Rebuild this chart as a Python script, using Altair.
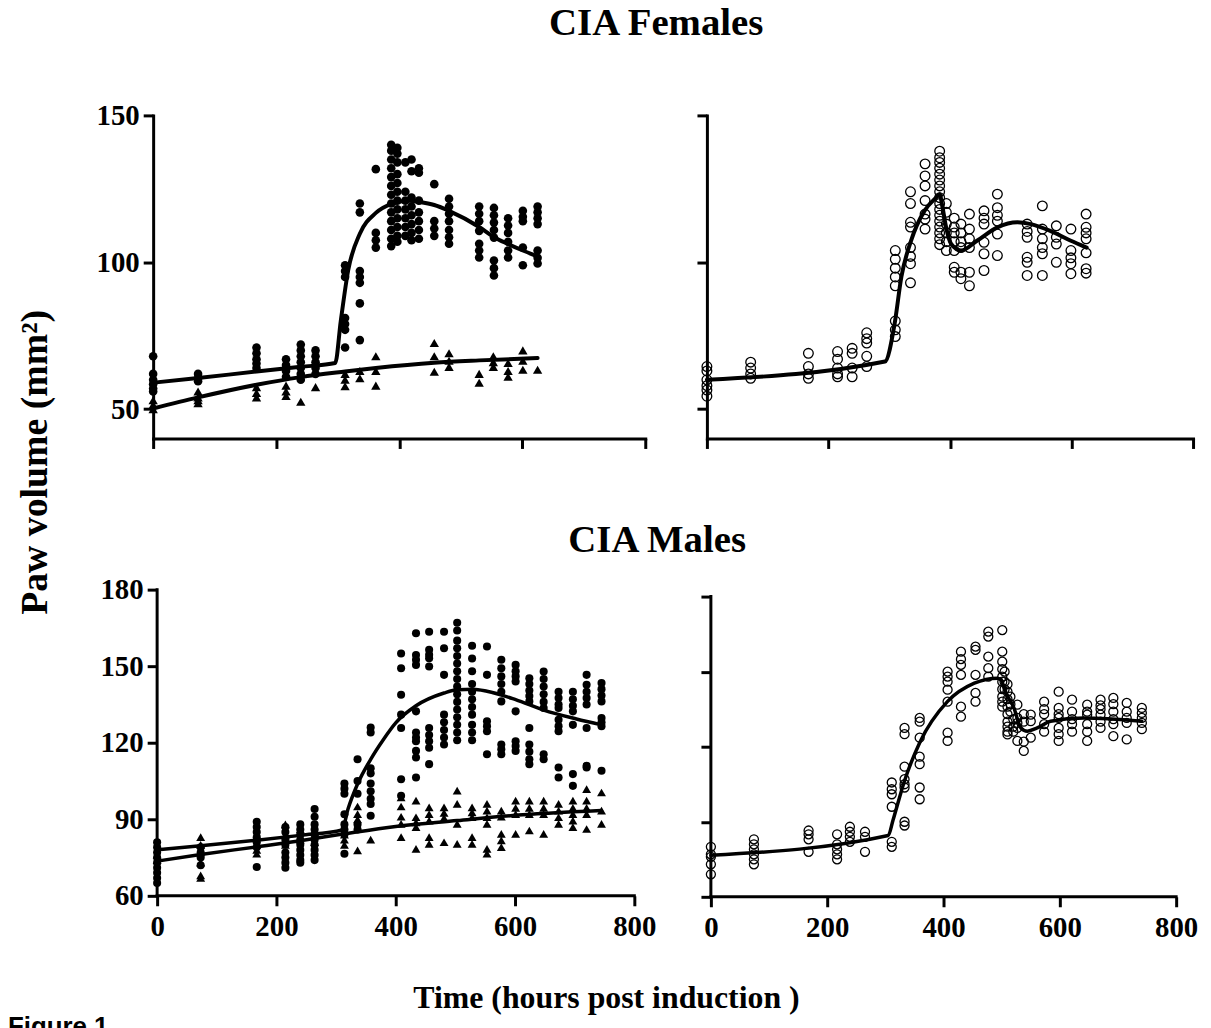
import altair as alt
import pandas as pd

# ---------------- data ----------------
X_TICKS = [0, 200, 400, 600, 800]
F_Y_TICKS = [50, 100, 150]
M_Y_TICKS = [60, 90, 120, 150, 180]

# CIA females, left panel: filled circles (arthritic)
F_CIA = [
    (0, [68, 62, 60, 58.5, 57, 56]),
    (73, [62, 60.5, 59.5]),
    (168, [71, 69, 67, 65.5, 64]),
    (216, [67, 65, 63, 61]),
    (240, [72, 70, 68, 66, 64, 62, 60]),
    (264, [70, 68, 66, 64, 62]),
    (312, [99, 97, 95, 81, 79, 77, 71]),
    (336, [120, 117, 97, 95, 93, 86, 73.5]),
    (362, [131.7, 110, 107.5, 105]),
    (387, [140, 138, 135, 132, 129, 126, 123, 120, 117, 114, 111, 108, 105.5]),
    (397, [139, 137, 134, 130, 127, 124, 121, 118, 115, 112, 109, 107]),
    (410, [134, 124, 121, 118, 115, 112, 109]),
    (420, [135, 131, 122, 119, 116, 113, 110, 107.5]),
    (432, [132, 130.5, 121, 117, 114, 111, 108]),
    (457, [126.6, 114, 111.5, 109]),
    (481, [121.6, 119, 116.5, 114, 111, 108.5, 106.3]),
    (530, [119, 116.5, 114, 110.7, 106.3, 104, 101.6]),
    (554, [118.5, 116, 113.5, 111, 108.4, 100.6, 98, 95.5]),
    (577, [115, 112.5, 110, 107, 104, 101.6]),
    (601, [117.5, 115.5, 114, 105, 99]),
    (625, [119, 117, 115, 113, 104, 101.5, 99.6]),
]
# CIA females, left panel: filled triangles
F_CTRL = [
    (0, [53, 51.5, 50]),
    (73, [56, 54, 53, 52]),
    (168, [57.5, 55.5, 54]),
    (216, [58, 56, 54.5]),
    (240, [52.5]),
    (264, [57.5]),
    (312, [62, 60, 57.8]),
    (336, [63, 60.5]),
    (362, [68, 63, 58]),
    (457, [72.5, 68, 62.7]),
    (481, [69, 66.5, 64.4]),
    (530, [62, 59]),
    (553, [68, 66, 64.4]),
    (577, [65.7, 63, 61]),
    (601, [70, 66.5, 63.4]),
    (625, [63.4]),
]
F_CIA_FIT = [(0, 59), (73, 60.6), (168, 62.8), (240, 64.4), (296, 65.7), (305, 80),
             (317, 97.2), (336, 109.7), (362, 116.8), (388, 119.9), (415, 120.9),
             (433, 120.5), (457, 119.5), (481, 117.5), (530, 112), (553, 108.7),
             (577, 106.2), (601, 104), (625, 102)]
F_CTRL_FIT = [(0, 50.2), (73, 54), (168, 58.3), (240, 60.9), (312, 62.8), (362, 64),
              (457, 65.8), (530, 66.6), (625, 67.4)]

# CIA females, right panel: open circles
F_RIGHT = [
    (0, [64.5, 63, 60, 58, 56.5, 54.4]),
    (72, [66, 64, 62, 60.5]),
    (167, [69, 64.5, 62, 60.5]),
    (215, [69.6, 67, 64, 62, 61]),
    (239, [70.7, 69, 64, 61]),
    (263, [76, 74, 72.5, 68, 64.5]),
    (310, [104, 101, 98, 95, 92, 80, 77, 74.7]),
    (335, [124, 120, 113.6, 112, 105, 102, 99.5, 93]),
    (359, [133.5, 129.4, 126, 121, 116.4, 114.7, 111.3]),
    (383, [137.8, 135.6, 134, 132, 130, 128, 126, 124, 122, 120, 118, 116, 114, 112, 110, 108, 106]),
    (394, [120, 117, 113, 110, 107, 104]),
    (407, [115, 112, 110, 107, 104, 98.3, 96.6]),
    (418, [113, 110, 107, 105, 96.6, 94.4]),
    (432, [116.4, 111.3, 108, 105, 96.6, 92]),
    (456, [117.5, 115, 113, 106.8, 102.9, 97.2]),
    (478, [123.2, 118.6, 116, 114, 109.6, 102.3]),
    (527, [113, 110.5, 108.5, 101.7, 100, 95.5]),
    (552, [119.2, 111.3, 108, 105, 102.9, 95.5]),
    (575, [112.4, 108.5, 106.2, 100]),
    (599, [111.3, 104, 101.5, 99.5, 96.1]),
    (624, [116.4, 111.9, 110, 108, 103.2, 97.8, 96.3]),
]
F_RIGHT_FIT = [(0, 60), (293, 66.2), (309, 79.2), (320, 95), (336, 107.4), (358, 117.5),
               (378, 122.2), (383, 123.2), (387, 119.5), (394, 111.5), (402, 106.2),
               (418, 104), (445, 107.4), (478, 111.9), (511, 113.6), (533, 113),
               (565, 110.7), (598, 107.4), (625, 105)]

# CIA males, left panel: filled circles
M_CIA = [
    (0, [81, 79, 77, 75, 73, 71, 69, 67, 65]),
    (73, [79, 77, 75, 72]),
    (167, [89, 87, 85, 83, 81, 79, 71.3]),
    (215, [87, 85, 82, 80, 77, 75, 73, 71]),
    (240, [88, 86, 84, 82, 80, 78, 76, 74, 73]),
    (264, [94, 91, 88, 86, 84, 82, 80, 78, 76, 74]),
    (314, [104, 102, 100, 92, 88, 86, 84, 76.5]),
    (336, [113.5, 105, 100, 88, 86]),
    (358, [126, 124, 110, 108, 104, 101, 98, 96, 91.4]),
    (409, [155, 149.2, 138.8, 131, 125.8, 105.7, 99.2]),
    (434, [162.9, 154.4, 152.5, 150.5, 132.3, 124, 122, 120.6, 116.8, 114.2, 106.4]),
    (456, [163.5, 156.4, 154.5, 153.1, 149.9, 125.8, 123, 120.6, 118, 111.6]),
    (481, [163.5, 157, 146.6, 131, 128, 125, 122, 119.3]),
    (503, [167, 164, 160, 157, 154, 151, 148, 145, 142, 139, 136, 133, 130, 127, 124, 121]),
    (528, [158, 153, 148, 143, 140, 137, 134, 131, 127, 124, 121]),
    (553, [157.7, 146.6, 128.4, 126.5, 124.5, 115.5]),
    (577, [152.5, 149.2, 146, 143, 140, 136.2, 119.3, 117.4, 115.5]),
    (601, [150.5, 148, 146, 144, 132.3, 120.6, 118.7, 116.8]),
    (624, [145.3, 143, 140.5, 138.3, 136.2, 125.8, 119.3, 116.5, 113.5, 111.6]),
    (648, [147.9, 145, 142, 139, 136, 133.6, 115.5, 113.5]),
    (673, [140, 137.5, 135, 133.6, 129, 126.5, 124.5, 110.3, 106.4]),
    (697, [140, 137, 134.5, 132.3, 127, 107.7, 103.1]),
    (720, [146.6, 142.7, 140, 137.5, 135, 125.8, 111, 110.3]),
    (745, [143.4, 141, 138.5, 136.2, 129.7, 128, 126.5, 109]),
]
# CIA males, left panel: filled triangles
M_CTRL = [
    (0, [76, 74]),
    (73, [83, 80, 77, 73, 68, 67]),
    (167, [80, 78, 76.5]),
    (215, [88, 84, 80]),
    (240, [86, 82]),
    (264, [85, 81]),
    (314, [84, 82, 80]),
    (336, [95, 92, 90, 77.8]),
    (358, [82]),
    (409, [98.6, 95, 91, 88.2, 83]),
    (434, [97.3, 90.8, 88.8, 86.9, 78.4]),
    (456, [94.7, 92, 89.5, 83, 80.4]),
    (481, [94.7, 92.5, 90.5, 81]),
    (503, [101.2, 96, 88.2, 80.4]),
    (528, [94.7, 92.7, 90.8, 83, 80.4]),
    (553, [96, 93.4, 90.8, 88.2, 78.4, 76.5]),
    (577, [93.4, 91, 84.3, 81.7, 79.1]),
    (601, [97.3, 94.5, 92, 84.3]),
    (624, [97.3, 94.5, 92, 85.6]),
    (648, [97.3, 94.5, 92, 84.3]),
    (673, [96, 93.4, 90.8, 88.2]),
    (697, [97.3, 94.5, 92, 89.5, 86.9]),
    (720, [101.8, 97.3, 94.5, 92, 86.2]),
    (745, [100.5, 93.4, 88.2]),
]
M_CIA_FIT = [(0, 78), (73, 79.6), (167, 81.8), (240, 83.7), (310, 85.8), (320, 94),
             (336, 103.8), (358, 113.5), (380, 121.5), (400, 127.8), (434, 134.5),
             (481, 139.5), (503, 140.8), (530, 141), (553, 140.2), (601, 136.9),
             (648, 132.8), (703, 129.3), (745, 127)]
M_CTRL_FIT = [(0, 73.6), (73, 76.2), (167, 79.2), (240, 81.6), (314, 84.3), (400, 87.2),
              (503, 89.5), (592, 91.4), (745, 93.4)]

# CIA males, right panel: open circles
M_RIGHT = [
    (0, [80, 77, 76, 73, 69]),
    (74, [83, 81, 79, 77, 75, 73]),
    (168, [86.5, 85, 83, 78]),
    (217, [85, 81, 79, 77, 75]),
    (239, [88, 86, 84, 82]),
    (265, [86, 84, 78]),
    (311, [105.7, 103, 101, 96, 82, 80]),
    (333, [127.5, 125, 112, 107, 105, 103.7, 90, 88.5]),
    (359, [131.5, 130, 123.6, 116, 113, 103.7, 99]),
    (407, [150, 148, 146, 142.8, 138, 125.6, 122.3]),
    (430, [158, 155, 152.7, 148.7, 136, 132]),
    (455, [160, 158.7, 148.7, 141.5, 138]),
    (477, [166, 164, 156, 151.4, 148]),
    (501, [166.6, 158, 154, 151, 148, 146, 143, 140, 138, 136]),
    (505, [150, 146, 143]),
    (510, [145, 142, 139, 136, 133, 130, 128, 126, 124.9]),
    (515, [140, 137, 134]),
    (520, [131, 128, 126]),
    (527, [136.8, 131.5, 129.5, 127.5, 122.3]),
    (538, [133, 130, 122, 118.3]),
    (550, [132.8, 130.2, 123.6]),
    (573, [138, 135, 133, 129, 126]),
    (598, [142, 135.5, 133, 131.5, 127.5, 125, 122.3]),
    (621, [138.8, 134, 131, 129, 126]),
    (647, [136.8, 134, 132.8, 129, 126, 122.3]),
    (670, [138.8, 136.5, 135, 132.8, 130, 127.5]),
    (692, [139.5, 137, 134, 131, 129, 124.2]),
    (715, [137.5, 134, 131.5, 129.5, 122.9]),
    (741, [135.5, 133.5, 131.5, 129.5, 127]),
]
M_RIGHT_FIT = [(0, 76.6), (305, 84.5), (313, 90.5), (333, 106.4), (359, 121.6), (407, 138.1),
               (453, 145.4), (493, 147.4), (500, 146.5), (504, 143.4), (521, 135.5),
               (533, 127.5), (544, 126.2), (561, 127.5), (584, 130.2), (641, 131.5),
               (741, 130.2)]

# ---------------- helpers ----------------
SERIF = "Liberation Serif"
ONE = pd.DataFrame({"s": [0]})


def pts(groups):
    return pd.DataFrame([(t, v) for t, vs in groups for v in vs], columns=["t", "v"])


def fit(pairs):
    return pd.DataFrame(pairs, columns=["t", "v"])


def encs(xdom, ydom, yticks, ylabels, xlabels, domain=True, yoffset=0):
    x = alt.X("t:Q", scale=alt.Scale(domain=xdom, nice=False, zero=False),
              axis=alt.Axis(values=X_TICKS, labels=xlabels, title=None, labelFlush=False,
                            labelOverlap=False, domain=domain))
    y = alt.Y("v:Q", scale=alt.Scale(domain=ydom, nice=False, zero=False),
              axis=alt.Axis(values=yticks, labels=ylabels, title=None, labelOverlap=False,
                            domain=domain, offset=yoffset))
    return x, y


def filled(df, x, y, shape, size):
    return alt.Chart(df).mark_point(shape=shape, filled=True, color="black", opacity=1,
                                    size=size, strokeWidth=0).encode(x=x, y=y)


def hollow(df, x, y, size):
    return alt.Chart(df).mark_point(shape="circle", filled=False, color="black", opacity=1,
                                    size=size, strokeWidth=1.3).encode(x=x, y=y)


def curve(df, x, y, w):
    return alt.Chart(df).mark_line(color="black", strokeWidth=w, interpolate="monotone",
                                   strokeCap="round", strokeJoin="round").encode(x=x, y=y)


def axis_line(x1, x2, y1, y2=None):
    enc = dict(x=alt.value(x1), y=alt.value(y1))
    if x2 is not None:
        enc["x2"] = alt.value(x2)
    if y2 is not None:
        enc["y2"] = alt.value(y2)
    return alt.Chart(ONE).mark_rule(color="black", strokeWidth=3, strokeCap="square").encode(**enc)


def label(text, x, y, size, font=SERIF, angle=0, align="center"):
    return alt.Chart(ONE).mark_text(
        text=text, font=font, fontSize=size, fontWeight="bold", color="black",
        align=align, baseline="alphabetic", angle=angle).encode(x=alt.value(x), y=alt.value(y))


# ---------------- panels ----------------
x, y = encs([0, 800], [40, 150], F_Y_TICKS, True, False)
tl = alt.layer(
    filled(pts(F_CIA), x, y, "circle", 75),
    filled(pts(F_CTRL), x, y, "triangle-up", 88),
    curve(fit(F_CIA_FIT), x, y, 4),
    curve(fit(F_CTRL_FIT), x, y, 4),
    label("CIA Females", 506, -81, 39),
    label("CIA Males", 507, 439, 39),
    label("Paw volume (mm²)", -107, 349, 38, angle=270),
    label("Time (hours post induction )", 456, 898, 32),
    label("Figure 1", -146, 925, 26, font="Liberation Sans", align="left"),
).properties(width=495, height=325)

x, y = encs([0, 800], [40, 150], F_Y_TICKS, False, False)
tr = alt.layer(
    hollow(pts(F_RIGHT), x, y, 95),
    curve(fit(F_RIGHT_FIT), x, y, 4),
).properties(width=489, height=325)

# bottom-left: plot sits 4px right of the top-left one
x, y = encs([-4 / 0.6, 800], [60, 180], M_Y_TICKS, True, True, domain=False, yoffset=-4)
bl = alt.layer(
    filled(pts(M_CIA), x, y, "circle", 66),
    filled(pts(M_CTRL), x, y, "triangle-up", 80),
    curve(fit(M_CIA_FIT), x, y, 3.5),
    curve(fit(M_CTRL_FIT), x, y, 3.5),
    axis_line(4, 484, 308),
    axis_line(4, None, 0, 308),
).properties(width=484, height=308)

# bottom-right: plot sits 4px right and 7px lower than its grid cell
x, y = encs([-4 / 0.585, 800], [60, 180 + 7 / (302 / 120)], M_Y_TICKS, False, True,
            domain=False, yoffset=-4)
br = alt.layer(
    hollow(pts(M_RIGHT), x, y, 82),
    curve(fit(M_RIGHT_FIT), x, y, 3.5),
    axis_line(4, 472, 309),
    axis_line(4, None, 7, 309),
).properties(width=472, height=309)

chart = alt.concat(
    tl, tr, bl, br, columns=2, spacing={"row": 152, "column": 62}, bounds="flush"
).properties(
    padding={"left": 0, "top": -7, "right": 5, "bottom": 0}
).configure_view(stroke=None).configure_axis(
    labelFont=SERIF, labelFontSize=29, labelFontWeight="bold", labelColor="black",
    tickColor="black", domainColor="black", tickWidth=3, domainWidth=3, tickSize=10,
    labelPadding=4, grid=False, domainCap="square", tickCap="butt"
).configure_axisX(labelPadding=7)

chart.save("out.html", embed_options={"renderer": "svg", "actions": False})
